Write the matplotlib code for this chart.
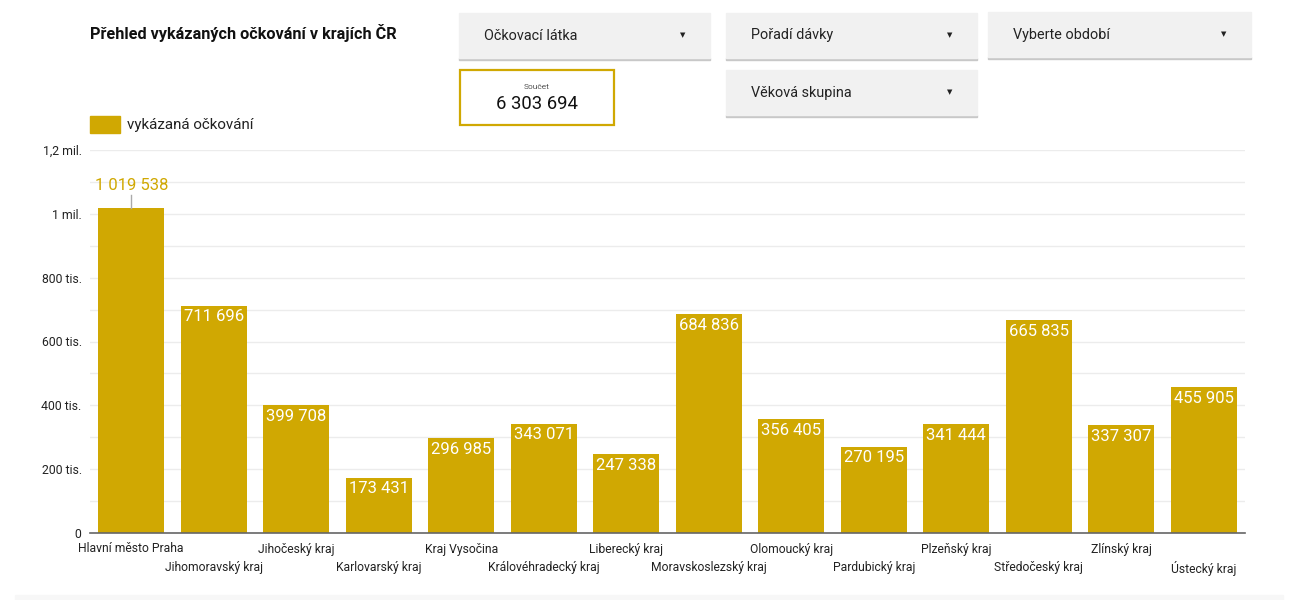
import matplotlib
matplotlib.use("Agg")
import matplotlib.pyplot as plt
from matplotlib.patches import Rectangle
from matplotlib.ticker import FixedLocator, MultipleLocator

plt.rcParams['font.family'] = ['Roboto', 'DejaVu Sans']

regions = ["Hlavní město Praha", "Jihomoravský kraj", "Jihočeský kraj", "Karlovarský kraj",
           "Kraj Vysočina", "Královéhradecký kraj", "Liberecký kraj", "Moravskoslezský kraj",
           "Olomoucký kraj", "Pardubický kraj", "Plzeňský kraj", "Středočeský kraj",
           "Zlínský kraj", "Ústecký kraj"]
values = [1019538, 711696, 399708, 173431, 296985, 343071, 247338, 684836,
          356405, 270195, 341444, 665835, 337307, 455905]
ytick_vals = [0, 200000, 400000, 600000, 800000, 1000000, 1200000]
ytick_labels = ["0", "200 tis.", "400 tis.", "600 tis.", "800 tis.", "1 mil.", "1,2 mil."]
title = "Přehled vykázaných očkování v krajích ČR"
series_name = "vykázaná očkování"
total_label = "Součet"
total_value = "6 303 694"
dropdowns = ["Očkovací látka", "Pořadí dávky", "Vyberte období", "Věková skupina"]

GOLD = '#d0a802'
W, H = 1298, 600
fig = plt.figure(figsize=(W / 100, H / 100), dpi=100)

def fx(px):
    return px / W

def fy(py):
    return 1 - py / H

ax = fig.add_axes([fx(90), fy(533), fx(1245) - fx(90), fy(150) - fy(533)])
x = list(range(len(regions)))
ax.bar(x, values, width=0.8, color=GOLD, zorder=3)
ax.set_xlim(-0.5, len(regions) - 0.5)
ax.set_ylim(0, 1200000)
ax.yaxis.set_major_locator(FixedLocator(ytick_vals))
ax.set_yticklabels(ytick_labels)
ax.yaxis.set_minor_locator(MultipleLocator(100000))
ax.grid(True, axis='y', which='both', color='#ececec', linewidth=1, zorder=0)
ax.tick_params(axis='y', which='both', length=0, labelsize=8.8, colors='#222222', pad=6)
ax.set_xticks(x)
ax.set_xticklabels([])
ax.tick_params(axis='x', length=0)
for s in ['top', 'right', 'left']:
    ax.spines[s].set_visible(False)
ax.spines['bottom'].set_color('#666666')
ax.spines['bottom'].set_linewidth(1.2)
ax.spines['bottom'].set_zorder(4)

# category labels staggered on two rows
for i, name in enumerate(regions):
    off = -16 if i % 2 == 0 else -35
    ax.annotate(name, (i, 0), xytext=(0, off), textcoords='offset pixels',
                ha='center', va='center', fontsize=8.7, color='#222222')

def fmt(v):
    return f"{v:,}".replace(",", " ")

ymax = max(values)
for i, v in enumerate(values):
    if v == ymax:
        ax.plot([i, i], [v, v + 40000], color='#aaaaaa', linewidth=1, zorder=4)
        ax.annotate(fmt(v), (i, v), xytext=(0, 22), textcoords='offset pixels',
                    ha='center', va='center', fontsize=12, color=GOLD)
    else:
        ax.annotate(fmt(v), (i, v), xytext=(0, -11), textcoords='offset pixels',
                    ha='center', va='center', fontsize=12, color='white', zorder=5)

# title
fig.text(fx(90), fy(33), title, fontsize=11.7, fontweight='bold', color='#111111',
         ha='left', va='center')

# legend
fig.patches.append(Rectangle((fx(90), fy(133)), fx(30), fy(116) - fy(133),
                             transform=fig.transFigure, color=GOLD))
fig.text(fx(127), fy(125), series_name, fontsize=10.9, color='#222222', ha='left', va='center')

# dropdown boxes
boxes = [(459, 13, 251, 45), (726, 13, 251, 45), (988, 12, 263, 45), (726, 70, 251, 45)]
for (bx, by, bw, bh), label in zip(boxes, dropdowns):
    fig.patches.append(Rectangle((fx(bx), fy(by + bh + 2)), fx(bw), fy(by + bh) - fy(by + bh + 2),
                                 transform=fig.transFigure, color='#c8c8c8', zorder=1))
    fig.patches.append(Rectangle((fx(bx), fy(by + bh)), fx(bw), fy(by) - fy(by + bh),
                                 transform=fig.transFigure, color='#f1f1f1', zorder=2))
    fig.text(fx(bx + 25), fy(by + bh / 2), label, fontsize=10.4, color='#222222',
             ha='left', va='center', zorder=3)
    fig.text(fx(bx + bw - 27), fy(by + bh / 2), "▼", fontsize=5, color='#222222',
             ha='center', va='center', zorder=3, family=['DejaVu Sans'])

# scorecard
fig.patches.append(Rectangle((fx(460), fy(125)), fx(154), fy(70) - fy(125),
                             transform=fig.transFigure, facecolor='white', edgecolor=GOLD,
                             linewidth=1.6, zorder=2))
fig.text(fx(537), fy(87), total_label, fontsize=6, color='#555555', ha='center', va='center')
fig.text(fx(537), fy(104), total_value, fontsize=13.3, color='#111111', ha='center', va='center')

# faint bottom band
fig.patches.append(Rectangle((fx(15), 0), fx(1283) - fx(15), fy(595),
                             transform=fig.transFigure, color='#f7f7f7', zorder=0))

fig.savefig("out.png", dpi=100)
